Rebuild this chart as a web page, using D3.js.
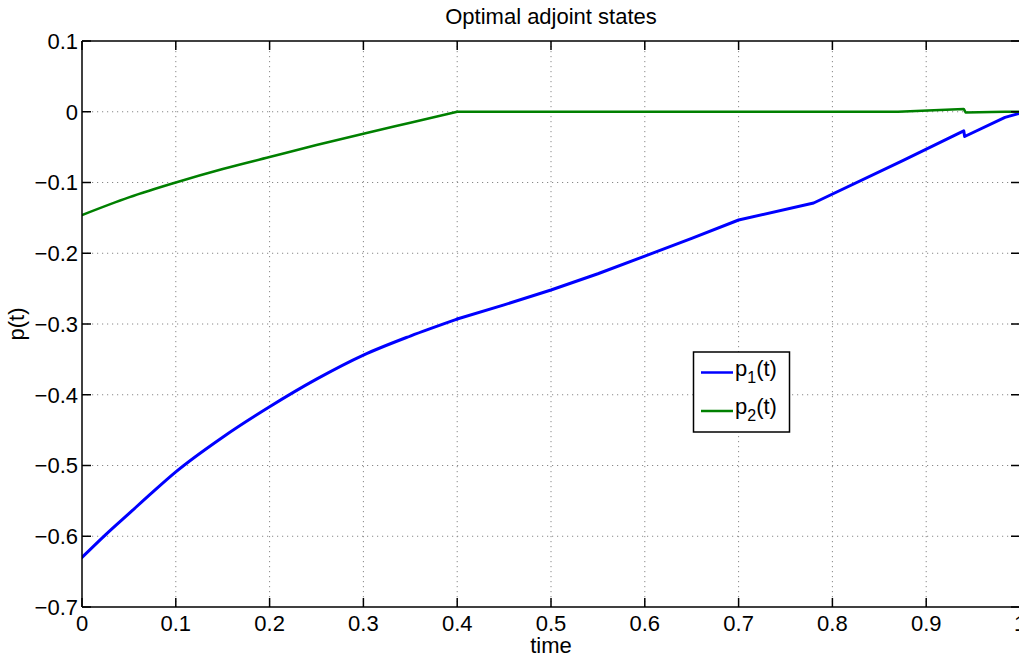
<!DOCTYPE html>
<html><head><meta charset="utf-8">
<script src="https://cdn.jsdelivr.net/npm/d3@7"></script>
<style>
html,body{margin:0;padding:0;background:#fff;}
svg{display:block;font-family:"Liberation Sans",Arial,Helvetica,sans-serif;}
</style></head>
<body>
<svg id="chart" width="1019" height="657"></svg>
<script>
const title = "Optimal adjoint states";
const xLabel = "time";
const yLabel = "p(t)";
const xTicks = [0,0.1,0.2,0.3,0.4,0.5,0.6,0.7,0.8,0.9,1];
const xTickLabels = ["0","0.1","0.2","0.3","0.4","0.5","0.6","0.7","0.8","0.9","1"];
const yTicks = [0.1,0,-0.1,-0.2,-0.3,-0.4,-0.5,-0.6,-0.7];
const yTickLabels = ["0.1","0","\u22120.1","\u22120.2","\u22120.3","\u22120.4","\u22120.5","\u22120.6","\u22120.7"];

const p1Time  = [0,0.025,0.05,0.075,0.1,0.15,0.2,0.25,0.3,0.35,0.4,0.45,0.5,0.55,0.6,0.65,0.7,0.78,0.875,0.94,0.941,0.984,1.0];
const p1Value = [-0.630,-0.598,-0.568,-0.538,-0.509,-0.460,-0.417,-0.378,-0.344,-0.317,-0.293,-0.273,-0.252,-0.229,-0.204,-0.179,-0.153,-0.129,-0.069,-0.027,-0.035,-0.008,-0.002];
const p2Time  = [0,0.05,0.1,0.15,0.2,0.25,0.3,0.35,0.4,0.87,0.94,0.942,0.984,1.0];
const p2Value = [-0.146,-0.121,-0.100,-0.081,-0.064,-0.047,-0.031,-0.0155,0.000,0.000,0.004,-0.001,0.000,0.000];
const smoothUntil = 0.4; // curved arc before this time, straight pieces after

const series = [
  {name:"p", sub:"1", time:p1Time, value:p1Value, color:"#0000ff", width:3},
  {name:"p", sub:"2", time:p2Time, value:p2Value, color:"#008000", width:2.5}
];

const svg = d3.select("#chart");
const mLeft = 82, mRight = 1020, mTop = 41, mBottom = 607;
const x = d3.scaleLinear().domain([0,1]).range([mLeft,mRight]);
const y = d3.scaleLinear().domain([-0.7,0.1]).range([mBottom,mTop]);

// grid
const grid = svg.append("g").attr("stroke","#888").attr("stroke-width",1).attr("stroke-dasharray","1.2,3.8");
grid.selectAll("line.vx").data(xTicks.slice(1,-1)).join("line").attr("class","vx")
  .attr("x1",d=>x(d)).attr("x2",d=>x(d)).attr("y1",mTop).attr("y2",mBottom);
grid.selectAll("line.hy").data(yTicks.slice(1,-1)).join("line").attr("class","hy")
  .attr("x1",mLeft).attr("x2",mRight).attr("y1",d=>y(d)).attr("y2",d=>y(d));

// series
svg.append("clipPath").attr("id","clip").append("rect")
  .attr("x",mLeft).attr("y",mTop).attr("width",mRight-mLeft).attr("height",mBottom-mTop);
const smoothGen = d3.line().x(d=>x(d[0])).y(d=>y(d[1])).curve(d3.curveMonotoneX);
const straightGen = d3.line().x(d=>x(d[0])).y(d=>y(d[1])).curve(d3.curveLinear);
series.forEach(s=>{
  const pts = s.time.map((t,i)=>[t,s.value[i]]);
  const a = pts.filter(p=>p[0]<=smoothUntil);
  const b = pts.filter(p=>p[0]>=smoothUntil);
  [[a,smoothGen],[b,straightGen]].forEach(([seg,gen])=>{
    svg.append("path").attr("clip-path","url(#clip)")
      .datum(seg)
      .attr("fill","none").attr("stroke",s.color).attr("stroke-width",s.width)
      .attr("stroke-linejoin","round").attr("stroke-linecap","round")
      .attr("d",gen);
  });
});

// axes box
const ax = svg.append("g").attr("stroke","#000").attr("stroke-width",1.5);
ax.append("line").attr("x1",mLeft).attr("x2",mRight).attr("y1",mBottom).attr("y2",mBottom);
ax.append("line").attr("x1",mLeft).attr("x2",mRight).attr("y1",mTop).attr("y2",mTop);
ax.append("line").attr("x1",mLeft).attr("x2",mLeft).attr("y1",mTop).attr("y2",mBottom);
ax.append("line").attr("x1",mRight).attr("x2",mRight).attr("y1",mTop).attr("y2",mBottom);
// ticks inward
const tl = 9;
ax.selectAll("line.xb").data(xTicks).join("line").attr("class","xb")
  .attr("x1",d=>x(d)).attr("x2",d=>x(d)).attr("y1",mBottom).attr("y2",mBottom-tl);
ax.selectAll("line.xt").data(xTicks).join("line").attr("class","xt")
  .attr("x1",d=>x(d)).attr("x2",d=>x(d)).attr("y1",mTop).attr("y2",mTop+tl);
ax.selectAll("line.yl").data(yTicks).join("line").attr("class","yl")
  .attr("x1",mLeft).attr("x2",mLeft+tl).attr("y1",d=>y(d)).attr("y2",d=>y(d));
ax.selectAll("line.yr").data(yTicks).join("line").attr("class","yr")
  .attr("x1",mRight).attr("x2",mRight-tl).attr("y1",d=>y(d)).attr("y2",d=>y(d));

// tick labels
const fs = 22;
svg.append("g").selectAll("text").data(xTicks).join("text")
  .attr("x",d=>x(d)).attr("y",631).attr("text-anchor","middle")
  .attr("font-size",fs).attr("fill","#000")
  .text((d,i)=>xTickLabels[i]);
svg.append("g").selectAll("text").data(yTicks).join("text")
  .attr("x",mLeft-4).attr("y",d=>y(d)).attr("dy","0.36em").attr("text-anchor","end")
  .attr("font-size",fs).attr("fill","#000")
  .text((d,i)=>yTickLabels[i]);

// title and labels
svg.append("text").attr("x",551).attr("y",24).attr("text-anchor","middle")
  .attr("font-size",fs).text(title);
svg.append("text").attr("x",551).attr("y",653).attr("text-anchor","middle")
  .attr("font-size",fs).text(xLabel);
svg.append("text").attr("transform","translate(24,324) rotate(-90)").attr("text-anchor","middle")
  .attr("font-size",fs).text(yLabel);

// legend
const lg = svg.append("g");
lg.append("rect").attr("x",693.5).attr("y",352).attr("width",96).attr("height",80)
  .attr("fill","#fff").attr("stroke","#000").attr("stroke-width",1.5);
series.forEach((s,i)=>{
  const ly = 372.5 + i*38.5;
  lg.append("line").attr("x1",701).attr("x2",733).attr("y1",ly).attr("y2",ly)
    .attr("stroke",s.color).attr("stroke-width",2.5);
  const t = lg.append("text").attr("x",735).attr("y",ly+3).attr("font-size",fs).attr("fill","#000");
  t.append("tspan").text(s.name);
  t.append("tspan").attr("dy",7).attr("font-size",16).text(s.sub);
  t.append("tspan").attr("dy",-7).text("(t)");
});
</script>
</body></html>
